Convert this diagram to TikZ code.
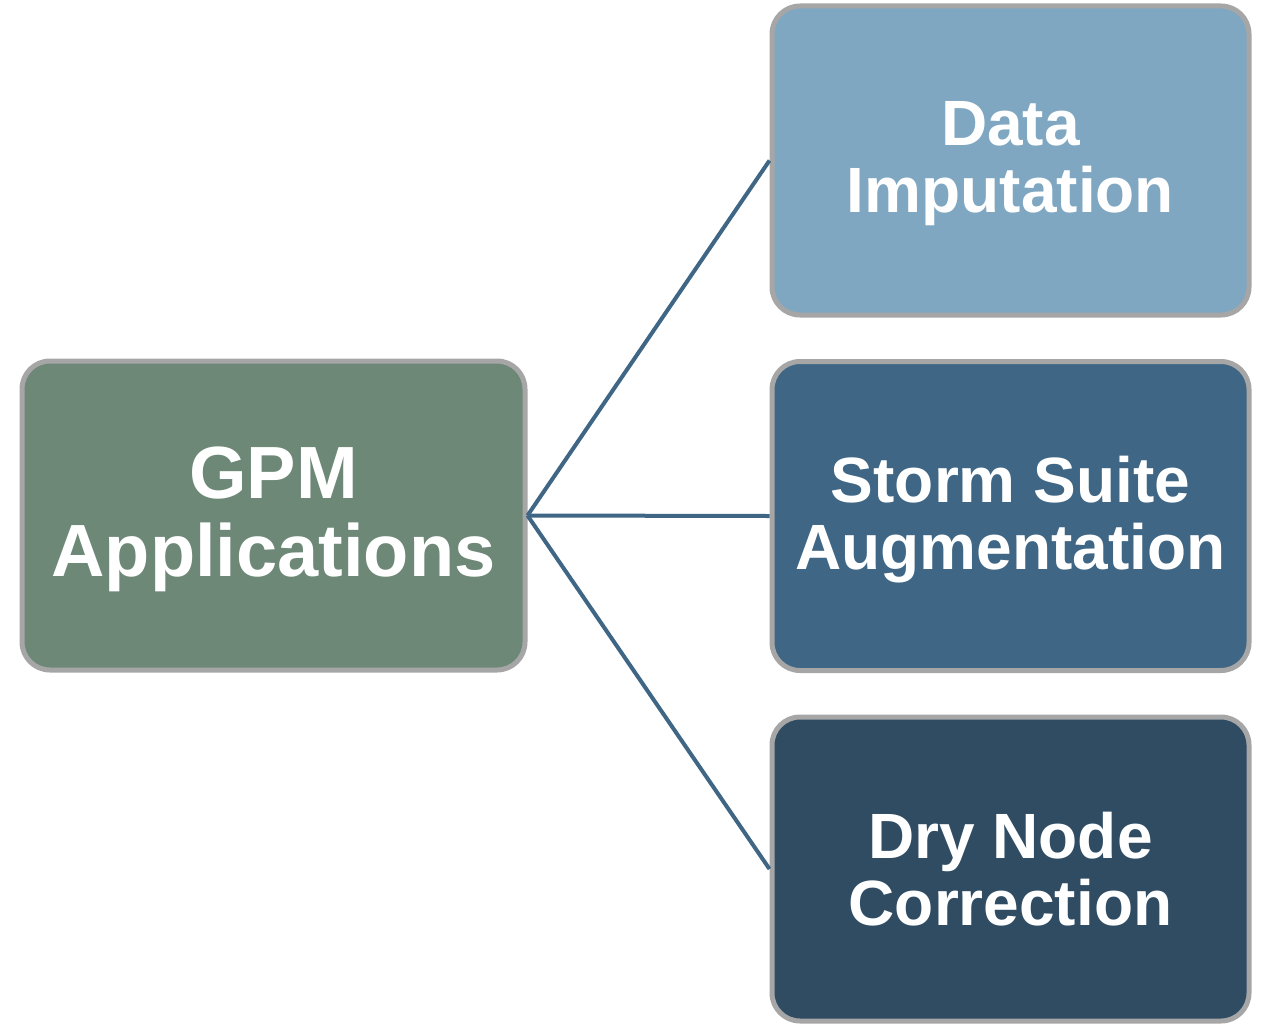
\documentclass[tikz,border=0pt]{standalone}
\usepackage{fontspec}
\setmainfont{Liberation Sans}
\begin{document}
\begin{tikzpicture}[x=1pt,y=-1pt,
  box/.style={draw=boxgray,line width=5pt,rounded corners=28pt,rectangle,
    inner sep=0pt,minimum width=477pt,minimum height=309pt},
  lbl/.style={text=white,align=center,inner sep=0pt},
  conn/.style={draw=linecol,line width=4pt},
  bigtxt/.style={font=\fontsize{74}{78}\selectfont\bfseries},
  smtxt/.style={font=\fontsize{64}{67}\selectfont\bfseries}]
\definecolor{boxgray}{HTML}{A6A6A6}
\definecolor{linecol}{HTML}{3F6684}
\definecolor{cA}{HTML}{6E8878}
\definecolor{cB}{HTML}{7FA7C2}
\definecolor{cC}{HTML}{3F6684}
\definecolor{cD}{HTML}{2F4C63}
\useasboundingbox (0,0) rectangle (1265,1025);
\node[box,fill=cA,minimum width=503pt] (a) at (273.5,515.5) {};
\node[box,fill=cB] (b) at (1010.5,160.5) {};
\node[box,fill=cC] (c) at (1010.5,516) {};
\node[box,fill=cD,minimum height=304pt] (d) at (1010.5,869) {};
\node[lbl,bigtxt] (at) at ([yshift=-4pt]a.center) {GPM\\Applications};
\node[lbl,smtxt] (bt) at ([yshift=-3pt]b.center) {Data\\Imputation};
\node[lbl,smtxt] (ct) at ([yshift=-4pt]c.center) {Storm Suite\\Augmentation};
\node[lbl,smtxt] (dt) at ([yshift=0pt]d.center) {Dry Node\\Correction};
\draw[conn] (a.east) -- (b.west);
\draw[conn] (a.east) -- (c.west);
\draw[conn] (a.east) -- (d.west);
\end{tikzpicture}
\end{document}
